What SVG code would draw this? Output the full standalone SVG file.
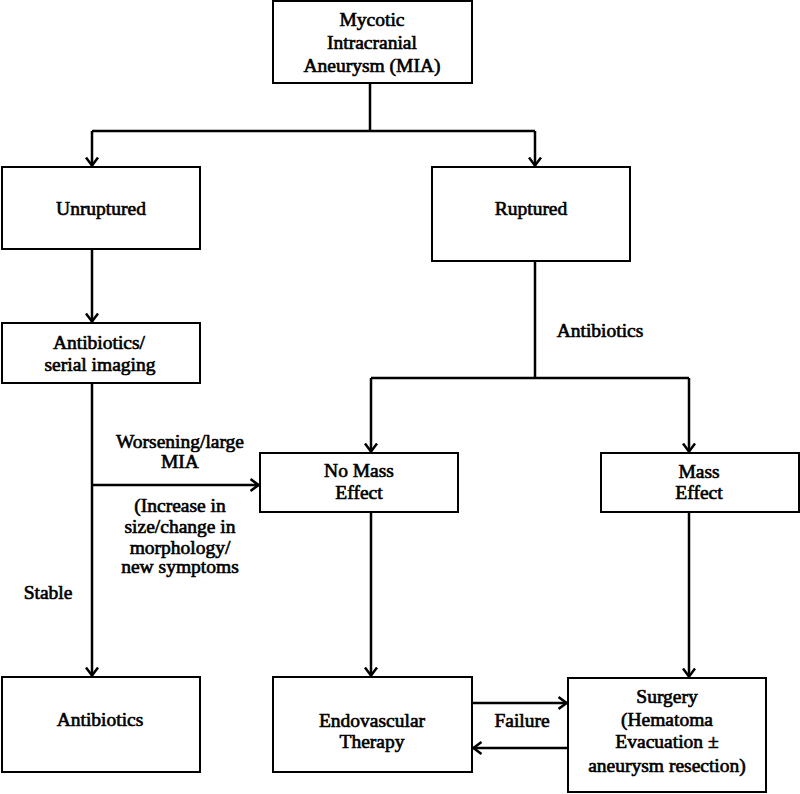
<svg xmlns="http://www.w3.org/2000/svg" width="800" height="794" viewBox="0 0 800 794">
<style>
.box{fill:#fff;stroke:#000;stroke-width:2}
.t{font-family:'Liberation Serif','Times New Roman',Times,'DejaVu Serif',serif;font-size:19.5px;font-weight:normal;text-anchor:middle;fill:#000;stroke:#000;stroke-width:0.65px}
.c{fill:none;stroke:#000;stroke-width:2.5}
</style>
<defs>
<marker id="ah" viewBox="0 0 10 14" refX="9.5" refY="7" markerWidth="10" markerHeight="14" markerUnits="userSpaceOnUse" orient="auto">
<path d="M1,1 L9,7 L1,13" fill="none" stroke="#000" stroke-width="2.5"/>
</marker>
</defs>
<rect width="800" height="794" fill="#fff"/>
<g id="connectors">
<path class="c" d="M370,83 V131 M92,131 H535 M535,261 V378 M371,378 H689"/>
<path class="c" d="M92,131 V166" marker-end="url(#ah)"/>
<path class="c" d="M535,131 V166" marker-end="url(#ah)"/>
<path class="c" d="M92,249 V322" marker-end="url(#ah)"/>
<path class="c" d="M92,383 V676" marker-end="url(#ah)"/>
<path class="c" d="M92,485 H259" marker-end="url(#ah)"/>
<path class="c" d="M371,378 V452" marker-end="url(#ah)"/>
<path class="c" d="M689,378 V452" marker-end="url(#ah)"/>
<path class="c" d="M371,512 V676" marker-end="url(#ah)"/>
<path class="c" d="M689,512 V677" marker-end="url(#ah)"/>
<path class="c" d="M472,703 H567" marker-end="url(#ah)"/>
<path class="c" d="M568,748 H473" marker-end="url(#ah)"/>
<text class="t" x="600" y="337">Antibiotics</text>
<text class="t" x="180" y="448">Worsening/large</text>
<text class="t" x="180" y="468">MIA</text>
<text class="t" x="180" y="512">(Increase in</text>
<text class="t" x="180" y="533">size/change in</text>
<text class="t" x="180" y="554">morphology/</text>
<text class="t" x="180" y="573">new symptoms</text>
<text class="t" x="48" y="599">Stable</text>
<text class="t" x="522" y="727">Failure</text>
</g>
<g id="mia">
<rect class="box" x="273" y="1" width="199" height="82"/>
<text class="t" x="372" y="26">Mycotic</text>
<text class="t" x="372" y="49">Intracranial</text>
<text class="t" x="372" y="72">Aneurysm (MIA)</text>
</g>
<g id="unruptured">
<rect class="box" x="2" y="167" width="198" height="82"/>
<text class="t" x="101" y="215">Unruptured</text>
</g>
<g id="ruptured">
<rect class="box" x="432" y="167" width="198" height="94"/>
<text class="t" x="531" y="215">Ruptured</text>
</g>
<g id="antibiotics-serial">
<rect class="box" x="2" y="323" width="198" height="60"/>
<text class="t" x="99" y="349">Antibiotics/</text>
<text class="t" x="100" y="371">serial imaging</text>
</g>
<g id="no-mass-effect">
<rect class="box" x="260" y="453" width="198" height="59"/>
<text class="t" x="359" y="477">No Mass</text>
<text class="t" x="359" y="499">Effect</text>
</g>
<g id="mass-effect">
<rect class="box" x="601" y="453" width="198" height="59"/>
<text class="t" x="699" y="478">Mass</text>
<text class="t" x="699" y="499">Effect</text>
</g>
<g id="antibiotics">
<rect class="box" x="2" y="677" width="198" height="95"/>
<text class="t" x="100" y="726">Antibiotics</text>
</g>
<g id="endovascular">
<rect class="box" x="273" y="677" width="199" height="95"/>
<text class="t" x="372" y="727">Endovascular</text>
<text class="t" x="372" y="748">Therapy</text>
</g>
<g id="surgery">
<rect class="box" x="568" y="678" width="198" height="114"/>
<text class="t" x="667" y="703">Surgery</text>
<text class="t" x="667" y="726">(Hematoma</text>
<text class="t" x="667" y="748">Evacuation ±</text>
<text class="t" x="667" y="772">aneurysm resection)</text>
</g>
</svg>
